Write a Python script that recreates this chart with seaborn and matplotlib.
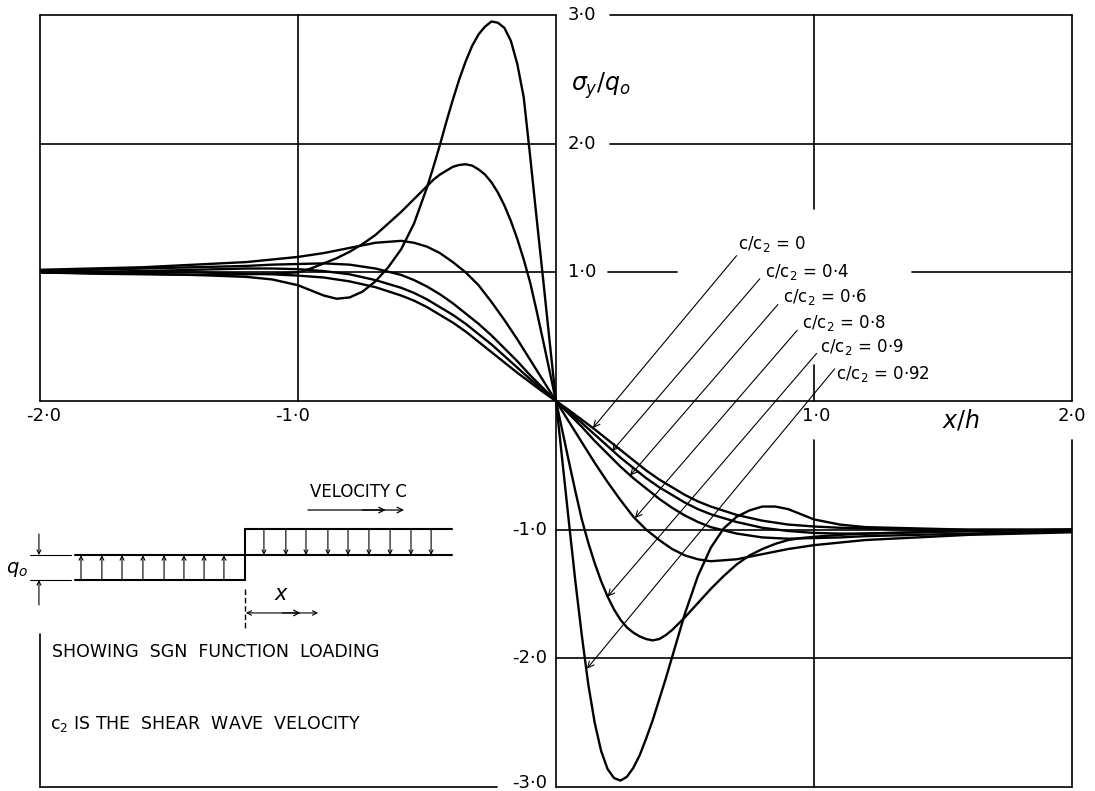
import numpy as np
import pandas as pd
import seaborn as sns
import matplotlib
matplotlib.use('Agg')
import matplotlib.pyplot as plt

sns.set_style('white')
plt.rcParams['font.family'] = ['DejaVu Sans']
plt.rcParams['mathtext.fontset'] = 'dejavusans'
plt.rcParams['text.color'] = 'black'

# x/h positions (coarse for smooth curves, fine for the sharp ones)
x_coarse = [-2.0, -1.8, -1.6, -1.4, -1.2, -1.1, -1.0, -0.9, -0.8, -0.7, -0.6, -0.55, -0.5, -0.45,
            -0.4, -0.35, -0.3, -0.25, -0.2, -0.15, -0.1, -0.05, 0.0,
            0.05, 0.1, 0.15, 0.2, 0.25, 0.3, 0.35, 0.4, 0.45, 0.5, 0.55, 0.6, 0.7, 0.8, 0.9,
            1.0, 1.1, 1.2, 1.4, 1.6, 1.8, 2.0]
x_fine = [-2.0, -1.8, -1.6, -1.4, -1.2, -1.1, -1.0, -0.95, -0.9, -0.85, -0.8, -0.75, -0.7, -0.65,
          -0.6, -0.55, -0.5, -0.475, -0.45, -0.425, -0.4, -0.375, -0.35, -0.325, -0.3, -0.275,
          -0.25, -0.225, -0.2, -0.175, -0.15, -0.125, -0.1, -0.075, -0.05, -0.025, 0.0,
          0.025, 0.05, 0.075, 0.1, 0.125, 0.15, 0.175, 0.2, 0.225, 0.25, 0.275, 0.3, 0.325,
          0.35, 0.375, 0.4, 0.425, 0.45, 0.475, 0.5, 0.55, 0.6, 0.65, 0.7, 0.75, 0.8, 0.85,
          0.9, 0.95, 1.0, 1.1, 1.2, 1.4, 1.6, 1.8, 2.0]

# sigma_y / q0 for each c/c2
s_00 = [1.00, 1.00, 1.00, 1.00, 0.99, 0.985, 0.975, 0.96, 0.93, 0.885, 0.82, 0.78, 0.73, 0.67,
        0.61, 0.54, 0.46, 0.38, 0.30, 0.22, 0.145, 0.07, 0.0,
        -0.07, -0.145, -0.22, -0.30, -0.38, -0.46, -0.54, -0.61, -0.67, -0.73, -0.78, -0.82,
        -0.885, -0.93, -0.96, -0.975, -0.985, -0.99, -1.00, -1.00, -1.00, -1.00]
s_04 = [1.00, 1.005, 1.01, 1.02, 1.03, 1.03, 1.025, 1.01, 0.985, 0.94, 0.88, 0.84, 0.79, 0.73,
        0.67, 0.60, 0.52, 0.44, 0.35, 0.26, 0.17, 0.085, 0.0,
        -0.085, -0.17, -0.26, -0.35, -0.44, -0.52, -0.60, -0.67, -0.73, -0.79, -0.84, -0.88,
        -0.94, -0.985, -1.01, -1.025, -1.03, -1.03, -1.02, -1.01, -1.005, -1.00]
s_06 = [1.01, 1.02, 1.03, 1.04, 1.05, 1.06, 1.065, 1.07, 1.06, 1.03, 0.98, 0.94, 0.89, 0.83,
        0.76, 0.68, 0.60, 0.51, 0.41, 0.31, 0.20, 0.10, 0.0,
        -0.10, -0.20, -0.31, -0.41, -0.51, -0.60, -0.68, -0.76, -0.83, -0.89, -0.94, -0.98,
        -1.03, -1.06, -1.07, -1.065, -1.06, -1.05, -1.04, -1.03, -1.02, -1.01]
s_08 = [1.02, 1.03, 1.04, 1.06, 1.08, 1.10, 1.12, 1.15, 1.19, 1.23, 1.245, 1.23, 1.20, 1.15,
        1.08, 1.00, 0.90, 0.77, 0.63, 0.48, 0.32, 0.16, 0.0,
        -0.16, -0.32, -0.48, -0.63, -0.77, -0.90, -1.00, -1.08, -1.15, -1.20, -1.23, -1.245,
        -1.23, -1.19, -1.15, -1.12, -1.10, -1.08, -1.06, -1.04, -1.03, -1.02]
s_09 = [1.00, 0.99, 0.985, 0.98, 0.985, 0.99, 1.00, 1.03, 1.07, 1.11, 1.16, 1.22, 1.29, 1.38,
        1.47, 1.57, 1.67, 1.72, 1.76, 1.79, 1.82, 1.835, 1.84, 1.83, 1.80, 1.76,
        1.70, 1.62, 1.52, 1.40, 1.26, 1.10, 0.92, 0.70, 0.47, 0.235, 0.0,
        -0.235, -0.47, -0.70, -0.92, -1.10, -1.26, -1.40, -1.52, -1.62, -1.70, -1.76, -1.80,
        -1.83, -1.85, -1.86, -1.85, -1.82, -1.78, -1.73, -1.68, -1.57, -1.46, -1.36, -1.27,
        -1.20, -1.15, -1.11, -1.08, -1.065, -1.055, -1.04, -1.03, -1.02, -1.01, -1.005, -1.00]
s_092 = [1.00, 0.995, 0.99, 0.98, 0.965, 0.945, 0.90, 0.86, 0.82, 0.795, 0.805, 0.85, 0.93, 1.04,
         1.18, 1.38, 1.66, 1.82, 1.99, 2.17, 2.34, 2.50, 2.64, 2.76, 2.85, 2.91,
         2.95, 2.94, 2.90, 2.80, 2.62, 2.36, 1.90, 1.42, 0.95, 0.47, 0.0,
         -0.47, -0.94, -1.40, -1.82, -2.20, -2.50, -2.72, -2.86, -2.93, -2.95, -2.92, -2.85,
         -2.75, -2.62, -2.48, -2.32, -2.16, -1.99, -1.82, -1.65, -1.36, -1.14, -0.99, -0.90,
         -0.85, -0.82, -0.82, -0.84, -0.88, -0.92, -0.96, -0.98, -0.99, -1.00, -1.00, -1.00]

speeds = ['0', '0·4', '0·6', '0·8', '0·9', '0·92']
curves = [(x_coarse, s_00), (x_coarse, s_04), (x_coarse, s_06), (x_coarse, s_08),
          (x_fine, s_09), (x_fine, s_092)]

# label text position, leader start, arrow tip on the curve
label_pos = [(0.705, 1.22), (0.81, 1.0), (0.88, 0.81), (0.953, 0.61), (1.023, 0.42), (1.085, 0.21)]
leader_start = [(0.70, 1.13), (0.79, 0.95), (0.86, 0.75), (0.935, 0.55), (1.01, 0.37), (1.08, 0.25)]
arrow_tip = [(0.143, -0.21), (0.217, -0.39), (0.287, -0.58), (0.306, -0.91), (0.20, -1.52), (0.12, -2.08)]

rows = []
for c, (xs, vals) in zip(speeds, curves):
    for xv, sv in zip(xs, vals):
        rows.append([c, xv, sv])
df = pd.DataFrame(rows, columns=['c', 'x', 'sigma'])

fig = plt.figure(figsize=(10.95, 7.91), dpi=100)
ax = fig.add_axes([0.0365, 0.005, 0.9425, 0.976])
sns.lineplot(data=df, x='x', y='sigma', hue='c', palette=['black'] * 6, legend=False,
             estimator=None, sort=False, lw=1.7, ax=ax)
ax.set_xlim(-2, 2)
ax.set_ylim(-3, 3)
ax.axis('off')

k = dict(color='black', lw=1.2, clip_on=False)
# horizontal grid pieces (y, x0, x1)
hgrid = [(3, -2, 0), (3, 0.21, 2), (2, -2, 0), (2, 0.21, 2), (1, -2, 0), (1, 0.2, 0.47),
         (1, 1.38, 2), (0, -2, 2), (-1, 0, 2), (-2, 0, 2), (-3, -2, -0.23), (-3, 0, 2)]
vgrid = [(-2, 0, 3), (-2, -3, -1.81), (-1, 0, 3), (0, -3, 3), (1, 1.49, 3), (1, 0, 0.28),
         (1, -3, -0.3), (2, 0, 3), (2, -3, -0.3)]
for y, a, b in hgrid:
    ax.plot([a, b], [y, y], **k)
for x, a, b in vgrid:
    ax.plot([x, x], [a, b], **k)

fs = 13
for v in [1, 2, 3]:
    ax.text(0.047, v, '%d·0' % v, ha='left', va='center', fontsize=fs)
for v in [1, 2]:
    ax.text(-0.035, -v, '-%d·0' % v, ha='right', va='center', fontsize=fs)
ax.text(-0.035, -2.965, '-3·0', ha='right', va='center', fontsize=fs)
ax.text(-1.985, -0.12, '-2·0', ha='center', va='center', fontsize=fs)
ax.text(-1.02, -0.12, '-1·0', ha='center', va='center', fontsize=fs)
ax.text(1.01, -0.12, '1·0', ha='center', va='center', fontsize=fs)
ax.text(2.0, -0.12, '2·0', ha='center', va='center', fontsize=fs)
ax.text(1.57, -0.15, r'$x/h$', ha='center', va='center', fontsize=17)
ax.text(0.06, 2.45, r'$\sigma_y/q_o$', ha='left', va='center', fontsize=17)

for c, lp, ls, tip in zip(speeds, label_pos, leader_start, arrow_tip):
    ax.text(lp[0], lp[1], 'c/c$_2$ = ' + c, ha='left', va='center', fontsize=12)
    ax.annotate('', xy=tip, xytext=ls,
                arrowprops=dict(arrowstyle='->', lw=0.8, color='black',
                                shrinkA=0, shrinkB=0, mutation_scale=11))

# loading sketch
t = dict(color='black', lw=1.5, clip_on=False)
ax.plot([-1.864, -1.205], [-1.391, -1.391], **t)
ax.plot([-1.864, -0.403], [-1.197, -1.197], **t)
ax.plot([-1.205, -1.205], [-1.391, -0.995], **t)
ax.plot([-1.205, -0.403], [-0.995, -0.995], **t)
up_x = [-1.841, -1.760, -1.682, -1.601, -1.519, -1.442, -1.364, -1.287]
down_x = [-1.132, -1.047, -0.969, -0.884, -0.806, -0.725, -0.643, -0.562, -0.484]
ap = dict(arrowstyle='->', lw=0.8, color='black', shrinkA=0, shrinkB=0, mutation_scale=7)
for xv in up_x:
    ax.annotate('', xy=(xv, -1.197), xytext=(xv, -1.391), arrowprops=ap, annotation_clip=False)
for xv in down_x:
    ax.annotate('', xy=(xv, -1.197), xytext=(xv, -0.995), arrowprops=ap, annotation_clip=False)

ax.plot([-2.039, -1.88], [-1.197, -1.197], color='black', lw=0.8, clip_on=False)
ax.plot([-2.039, -1.88], [-1.391, -1.391], color='black', lw=0.8, clip_on=False)
ax.annotate('', xy=(-2.004, -1.197), xytext=(-2.004, -1.033), arrowprops=ap, annotation_clip=False)
ax.annotate('', xy=(-2.004, -1.391), xytext=(-2.004, -1.585), arrowprops=ap, annotation_clip=False)
ax.text(-2.09, -1.313, r'$q_o$', ha='center', va='center', fontsize=14, clip_on=False)

ax.text(-0.764, -0.707, 'VELOCITY C', ha='center', va='center', fontsize=12)
ap2 = dict(arrowstyle='->', lw=0.9, color='black', shrinkA=0, shrinkB=0, mutation_scale=10)
ax.annotate('', xy=(-0.589, -0.847), xytext=(-0.961, -0.847), arrowprops=ap2)
ax.annotate('', xy=(-0.66, -0.847), xytext=(-0.75, -0.847), arrowprops=ap2)

ax.plot([-1.205, -1.205], [-1.461, -1.772], color='black', lw=1.0, ls=(0, (4, 2)))
ax.text(-1.062, -1.5, r'$x$', ha='center', va='center', fontsize=15)
ax.annotate('', xy=(-0.922, -1.647), xytext=(-1.202, -1.647),
            arrowprops=dict(arrowstyle='<->', lw=0.8, color='black', shrinkA=0, shrinkB=0,
                            mutation_scale=8))
ax.annotate('', xy=(-0.99, -1.647), xytext=(-1.06, -1.647), arrowprops=ap2)

ax.text(-1.953, -1.95, 'SHOWING  SGN  FUNCTION  LOADING', ha='left', va='center', fontsize=12.5)
ax.text(-1.961, -2.51, 'c$_2$ IS THE  SHEAR  WAVE  VELOCITY', ha='left', va='center', fontsize=12.5)

fig.savefig('out.png', dpi=100)
